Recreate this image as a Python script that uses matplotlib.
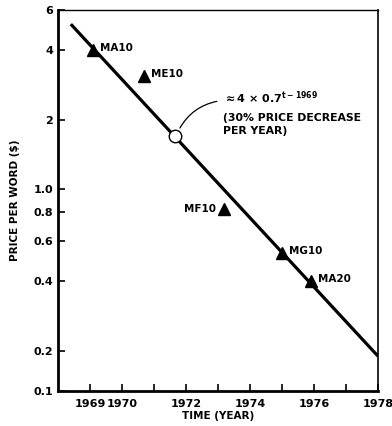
import matplotlib
matplotlib.use("Agg")
import matplotlib.pyplot as plt

plt.rcParams.update({
    'font.family': ['DejaVu Sans'],
    'font.weight': 'bold',
    'axes.labelweight': 'bold',
    'font.size': 8,
    'mathtext.fontset': 'dejavusans',
    'mathtext.default': 'bf',
})

# trend line endpoints
trend_t = [1968.4, 1978.0]
trend_p = [5.2, 0.19]

# instruments
names = ["MA10", "ME10", "MF10", "MG10", "MA20"]
years = [1969.1, 1970.7, 1973.2, 1975.0, 1975.9]
prices = [4.0, 3.1, 0.82, 0.53, 0.40]

# annotated point on the trend line
mark_t, mark_p = 1971.65, 1.70

xtick_pos = [1969, 1970, 1971, 1972, 1973, 1974, 1975, 1976, 1977, 1978]
xtick_lab = ["1969", "1970", "", "1972", "", "1974", "", "1976", "", "1978"]
ytick_pos = [0.134, 0.2, 0.4, 0.6, 0.8, 1.0, 2, 4, 6]
ytick_lab = ["0.1", "0.2", "0.4", "0.6", "0.8", "1.0", "2", "4", "6"]

fig = plt.figure(figsize=(3.92, 4.26), dpi=100)
ax = fig.add_axes([0.148, 0.082, 0.816, 0.895])

ax.plot(trend_t, trend_p, color="black", linewidth=2.3, solid_capstyle="butt")
ax.plot(years, prices, linestyle="none", marker="^", color="black", markersize=9)
ax.plot([mark_t], [mark_p], linestyle="none", marker="o", markersize=9,
        markerfacecolor="white", markeredgecolor="black", markeredgewidth=1.0)

for n, x, y in zip(names, years, prices):
    if n == "MF10":
        ax.text(x - 0.25, y, n, ha="right", va="center", fontsize=7.5)
    else:
        ax.text(x + 0.22, y * 1.02, n, ha="left", va="center", fontsize=7.5)

ax.annotate("", xy=(mark_t + 0.12, mark_p * 1.06), xytext=(1973.05, 2.42),
            arrowprops=dict(arrowstyle="-", color="black", linewidth=0.9,
                            connectionstyle="arc3,rad=0.25"))
ax.text(1973.15, 2.5, r"$\approx$4 $\times$ 0.7$^{t-1969}$", ha="left", va="center",
        fontsize=8)
ax.text(1973.15, 2.15, "(30% PRICE DECREASE\nPER YEAR)", ha="left", va="top",
        fontsize=7.8, linespacing=1.45)

ax.set_yscale("log")
ax.set_xlim(1968, 1978)
ax.set_ylim(0.134, 6)
ax.set_xticks(xtick_pos)
ax.set_xticklabels(xtick_lab)
ax.set_yticks(ytick_pos)
ax.set_yticklabels(ytick_lab)
ax.minorticks_off()
ax.tick_params(axis="both", direction="in", length=5, width=1.2, labelsize=8)
ax.tick_params(axis="x", pad=6)

for side in ["left", "bottom"]:
    ax.spines[side].set_linewidth(2.0)
ax.spines["top"].set_linewidth(1.0)
ax.spines["right"].set_linewidth(1.2)

ax.set_xlabel("TIME (YEAR)", fontsize=7.5, labelpad=1)
ax.set_ylabel("PRICE PER WORD ($)", fontsize=7.5, labelpad=10)

fig.savefig("out.png", dpi=100)
